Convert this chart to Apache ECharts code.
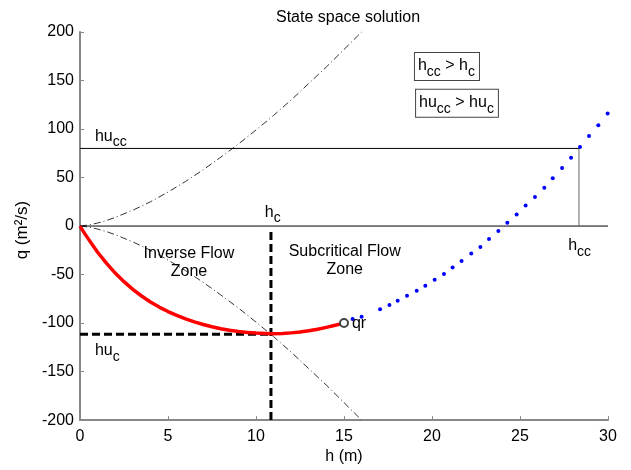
<!DOCTYPE html>
<html>
<head>
<meta charset="utf-8">
<script src="https://cdn.jsdelivr.net/npm/echarts@6/dist/echarts.min.js"></script>
<style>
html,body{margin:0;padding:0;background:#fff;}
#chart{width:631px;height:470px;}
</style>
</head>
<body>
<div id="chart"></div>
<script>
// ---- data ----
const critH      = [0, 0.5, 1, 1.5, 2, 3, 4, 5, 6, 7, 8, 9, 10, 11, 12, 13, 14, 15, 16];
const critUpperQ = [0, 1.1, 3.1, 5.7, 8.9, 16.3, 25, 35, 46, 58, 71, 84.5, 99, 114, 130, 147, 164, 182, 200];
const critLowerQ = [0, -1.1, -3.1, -5.7, -8.9, -16.3, -25, -35, -46, -58, -71, -84.5, -99, -114, -130, -147, -164, -182, -200];

const redH = [0, 0.25, 0.5, 1, 1.5, 2, 2.5, 3, 3.5, 4, 4.5, 5, 5.5, 6, 6.5, 7, 7.5, 8, 8.5, 9, 9.5, 10, 10.85, 11.5, 12, 12.5, 13, 13.5, 14, 14.5, 15];
const redQ = [0, -7.3, -14, -27, -38.3, -48.5, -57.3, -65.3, -72.1, -78.3, -83.5, -88.1, -92.1, -95.7, -98.8, -101.5, -103.8, -105.8, -107.4, -108.7, -109.6, -110.3, -111, -110.8, -110.1, -109.2, -107.9, -106.3, -104.4, -102.3, -100];

const blueH = [15, 15.49, 16.0, 17.05, 17.58, 18.05, 18.58, 19.13, 19.62, 20.15, 20.68, 21.17, 21.68, 22.23, 22.75, 23.24, 23.77, 24.28, 24.81, 25.32, 25.85, 26.38, 26.86, 27.39, 27.9, 28.41, 28.92, 29.45, 29.98];
const blueQ = [-100, -95.8, -93.4, -85.8, -81.4, -77, -71.8, -66.7, -61.5, -55.4, -49.3, -42.8, -35.9, -28.4, -21.6, -13.4, -5.1, 3.4, 11.9, 21.1, 30, 39.6, 49.2, 59.8, 70.4, 81.6, 92.9, 103.9, 115.9];

const qrPoint = [15, -100];
const hc = 10.85;      // critical depth
const huc = -111.5;    // critical discharge
const hcc = 28.35;
const hucc = 80;
const hMax = 30;
const dashTopQ = -5;

const xTicks = {min: 0, max: 30, interval: 5};
const yTicks = {min: -200, max: 200, interval: 50};

// annotation anchors (data coordinates)
const annHucc = [0.85, 92.5];
const annHc = [10.5, 14.0];
const annInverse = [6.19, -37.6];
const annSubcrit = [15.04, -35.6];
const annHuc = [0.85, -128.5];
const annQr = [15.45, -101];
const annHcc = [27.74, -20.5];
const annBox1 = [20.85, 164.5];
const annBox2 = [21.42, 126.6];

// ---- chart ----
const FONT = 'Liberation Sans, Arial, sans-serif';
const zip = (a, b) => a.map((v, i) => [v, b[i]]);
const rich = {
  n: {fontSize: 16, fontFamily: FONT, color: '#000', lineHeight: 18},
  s: {fontSize: 14, fontFamily: FONT, color: '#000', lineHeight: 15, padding: [12, 0, 0, 0]}
};
function lab(pos, text, align, extra) {
  return {
    value: pos,
    label: Object.assign({
      show: true, formatter: text, position: [0, 0], align: align || 'left',
      verticalAlign: 'middle', rich: rich, fontSize: 16, fontFamily: FONT, color: '#000', lineHeight: 18
    }, extra || {})
  };
}
function seg(points, color, width, type, z) {
  return {
    type: 'line', data: points, showSymbol: false, symbol: 'none', silent: true, z: z || 2,
    lineStyle: {color: color, width: width, type: type || 'solid', cap: 'butt', join: 'round'}, animation: false
  };
}
const boxStyle = {borderColor: '#444', borderWidth: 1, padding: [4, 4, 5, 3], backgroundColor: '#fff'};

const chart = echarts.init(document.getElementById('chart'));
chart.setOption({
  animation: false,
  backgroundColor: '#fff',
  title: {
    text: 'State space solution', left: 343, top: 5, textAlign: 'center',
    textStyle: {fontSize: 16, fontWeight: 'normal', fontFamily: FONT, color: '#000'}
  },
  grid: {left: 80, right: 23, top: 32, bottom: 48},
  xAxis: {
    type: 'value', min: xTicks.min, max: xTicks.max, interval: xTicks.interval,
    name: 'h (m)', nameLocation: 'middle', nameGap: 26,
    nameTextStyle: {fontSize: 16, fontFamily: FONT, color: '#000'},
    axisLine: {show: true, onZero: false, lineStyle: {color: '#888', width: 2}},
    axisTick: {show: true, inside: true, length: 4, lineStyle: {color: '#888'}},
    axisLabel: {fontSize: 16, fontFamily: FONT, color: '#000', margin: 8},
    splitLine: {show: false}
  },
  yAxis: {
    type: 'value', min: yTicks.min, max: yTicks.max, interval: yTicks.interval,
    name: 'q (m²/s)', nameLocation: 'middle', nameGap: 42, nameRotate: 90,
    nameTextStyle: {fontSize: 17, fontFamily: FONT, color: '#000', padding: [0, 8, 0, 0]},
    axisLine: {show: true, onZero: false, lineStyle: {color: '#888', width: 2}},
    axisTick: {show: true, inside: true, length: 4, lineStyle: {color: '#888'}},
    axisLabel: {fontSize: 16, fontFamily: FONT, color: '#000', margin: 6},
    splitLine: {show: false}
  },
  series: [
    seg(zip(critH, critUpperQ), '#333', 1, [7, 3, 1, 3]),
    seg(zip(critH, critLowerQ), '#333', 1, [7, 3, 1, 3]),
    seg([[0, 0], [hMax, 0]], '#000', 1),
    seg([[0, hucc], [hcc, hucc]], '#000', 1),
    seg([[hcc, 0], [hcc, hucc]], '#666', 1),
    seg([[hc, yTicks.min], [hc, dashTopQ]], '#000', 3, [8, 4], 3),
    seg([[0, huc], [hc, huc]], '#000', 3, [8, 4], 3),
    seg(zip(redH, redQ), '#ff0000', 3.5, 'solid', 4),
    {
      type: 'scatter', data: zip(blueH, blueQ), symbol: 'circle', symbolSize: 4,
      itemStyle: {color: '#0000ff', opacity: 1}, z: 5, silent: true
    },
    {
      type: 'scatter', data: [qrPoint], symbol: 'emptyCircle', symbolSize: 8,
      itemStyle: {color: '#444', borderColor: '#444', borderWidth: 1, opacity: 1}, z: 6, silent: true
    },
    {
      type: 'scatter', symbolSize: 0, z: 10, silent: true,
      itemStyle: {opacity: 1},
      data: [
        lab(annHucc, '{n|hu}{s|cc}'),
        lab(annHc, '{n|h}{s|c}'),
        lab(annInverse, 'Inverse Flow\nZone', 'center'),
        lab(annSubcrit, 'Subcritical Flow\nZone', 'center'),
        lab(annHuc, '{n|hu}{s|c}'),
        lab(annQr, 'qr'),
        lab(annHcc, '{n|h}{s|cc}'),
        lab(annBox1, '{n|h}{s|cc}{n| > h}{s|c}', 'center', boxStyle),
        lab(annBox2, '{n|hu}{s|cc}{n| > hu}{s|c}', 'center', boxStyle)
      ]
    }
  ]
});
</script>
</body>
</html>
